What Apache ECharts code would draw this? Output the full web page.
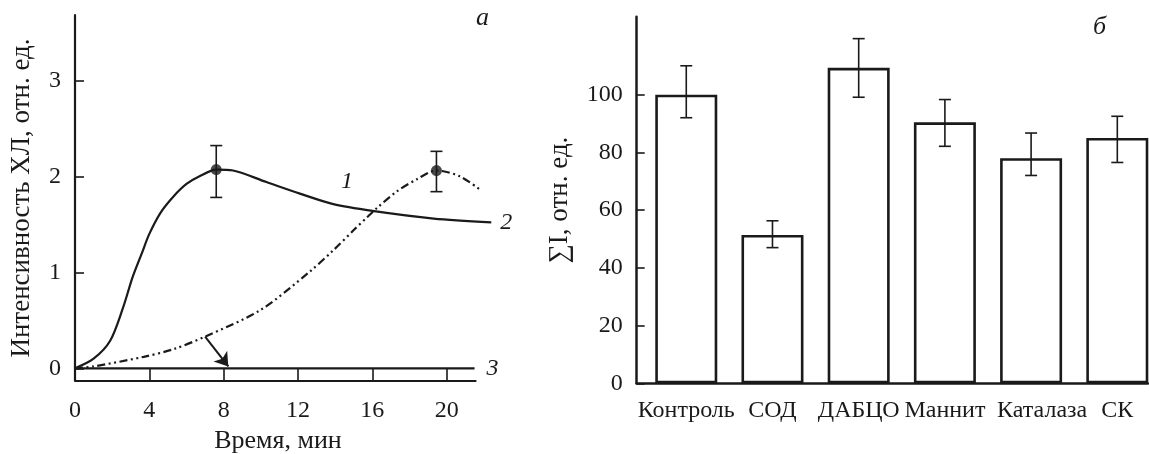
<!DOCTYPE html>
<html>
<head>
<meta charset="utf-8">
<script src="https://cdn.jsdelivr.net/npm/echarts@6/dist/echarts.min.js"></script>
<style>
html,body{margin:0;padding:0;background:#fff;}
#chart{width:1149px;height:454px;}
</style>
</head>
<body>
<div id="chart"></div>
<script>
// ---- Panel а: chemiluminescence kinetics ----
const timeTicks = [0, 4, 8, 12, 16, 20];
const intensityTicks = [0, 1, 2, 3];
const timeAxisEnd = 21.6;        // end of the drawn time axis line
const curve1Time = [0, 1.0, 1.9, 2.6, 3.1, 3.6, 4.0, 4.6, 5.3, 6.0, 6.7, 7.6, 8.5, 10.3, 12.1, 13.9, 16.0, 19.3, 22.4];
const curve1Val  = [0, 0.10, 0.29, 0.64, 0.95, 1.20, 1.40, 1.62, 1.79, 1.92, 2.0, 2.07, 2.06, 1.94, 1.82, 1.71, 1.64, 1.56, 1.52];
const curve2Time = [0, 1.0, 3.7, 5.3, 7.0, 10.0, 12.65, 13.9, 15.0, 15.7, 16.25, 17.3, 18.4, 19.45, 20.7, 21.8];
const curve2Val  = [0, 0.02, 0.12, 0.20, 0.33, 0.61, 1.01, 1.23, 1.44, 1.57, 1.67, 1.84, 1.97, 2.06, 2.0, 1.86];
const curve3Time = [0, 21.5];
const curve3Val  = [0, 0];
const pointTime = [7.6, 19.45];
const pointVal  = [2.07, 2.06];
const pointLow  = [1.78, 1.84];
const pointHigh = [2.32, 2.26];
const arrowFrom = [7.0, 0.33];
const arrowTo   = [8.25, 0.02];

// ---- Panel б: integral intensity ----
const categories = ['Контроль', 'СОД', 'ДАБЦО', 'Маннит', 'Каталаза', 'СК'];
const barValues = [100, 51.4, 109.3, 90.4, 78.0, 85.0];
const barLow    = [92, 47.0, 99.1, 82.1, 72.0, 76.5];
const barHigh   = [110, 56.3, 119.4, 98.3, 86.7, 92.5];
const sumTicks  = [0, 20, 40, 60, 80, 100];

const FONT = '"Liberation Serif", "DejaVu Serif", serif';
const FS = 24;
const NAME_FS = 26;
const BLACK = '#1a1a1a';
const Y_MIN_A = -0.132;

const zip = (a, b) => a.map((v, i) => [v, b[i]]);

function errRender(capHalf) {
  return function (params, api) {
    const x = api.value(0);
    const lo = api.coord([x, api.value(1)]);
    const hi = api.coord([x, api.value(2)]);
    const st = { stroke: BLACK, lineWidth: 1.6 };
    return {
      type: 'group',
      children: [
        { type: 'line', shape: { x1: hi[0], y1: hi[1], x2: lo[0], y2: lo[1] }, style: st },
        { type: 'line', shape: { x1: hi[0] - capHalf, y1: hi[1], x2: hi[0] + capHalf, y2: hi[1] }, style: st },
        { type: 'line', shape: { x1: lo[0] - capHalf, y1: lo[1], x2: lo[0] + capHalf, y2: lo[1] }, style: st }
      ]
    };
  };
}

const chart = echarts.init(document.getElementById('chart'), null, { renderer: 'canvas' });

const axisLabelStyle = { color: BLACK, fontFamily: FONT, fontSize: FS };

const option = {
  animation: false,
  backgroundColor: '#fff',
  textStyle: { fontFamily: FONT },
  grid: [
    // panel а: grid extends past the axis line so curves 1 and 2 may run beyond it
    { left: 75, right: 1149 - 500, top: 15, bottom: 454 - 381, containLabel: false, outerBoundsMode: 'none' },
    { left: 636.7, right: 1, top: 16.7, bottom: 454 - 383.3, containLabel: false, outerBoundsMode: 'none' }
  ],
  xAxis: [
    {
      gridIndex: 0, type: 'value', min: 0, max: 22.87,
      axisLine: { show: false, onZero: false },
      axisTick: { inside: true, length: 13, customValues: timeTicks, lineStyle: { color: BLACK, width: 1.6 } },
      axisLabel: Object.assign({ customValues: timeTicks, margin: 18 }, axisLabelStyle),
      splitLine: { show: false },
      name: 'Время, мин', nameLocation: 'middle', nameGap: 47,
      nameTextStyle: { color: BLACK, fontFamily: FONT, fontSize: NAME_FS, padding: [0, 19, 0, 0] }
    },
    {
      gridIndex: 1, type: 'value', min: -0.575, max: 5.356,
      axisLine: { onZero: false, lineStyle: { color: BLACK, width: 2.5 } },
      axisTick: { show: false },
      axisLabel: Object.assign({
        customValues: categories.map((c, i) => i), margin: 15,
        formatter: v => {
          const i = Math.round(v);
          return i === 4 ? '{shift|' + categories[i] + '}' : categories[i];
        },
        rich: { shift: { fontFamily: FONT, fontSize: FS, color: BLACK, padding: [0, 0, 0, 22] } }
      }, axisLabelStyle),
      splitLine: { show: false }
    }
  ],
  yAxis: [
    {
      gridIndex: 0, type: 'value', min: Y_MIN_A, max: 3.68,
      axisLine: { show: true, onZero: false, lineStyle: { color: BLACK, width: 2.2 } },
      axisTick: { show: true, inside: true, length: 9, customValues: intensityTicks, lineStyle: { color: BLACK, width: 1.6 } },
      axisLabel: Object.assign({ customValues: intensityTicks, margin: 14 }, axisLabelStyle),
      splitLine: { show: false },
      name: 'Интенсивность ХЛ, отн. ед.', nameLocation: 'middle', nameGap: 40, nameRotate: 90,
      nameTextStyle: { color: BLACK, fontFamily: FONT, fontSize: NAME_FS + 1 }
    },
    {
      gridIndex: 1, type: 'value', min: 0, max: 127,
      axisLine: { show: true, onZero: false, lineStyle: { color: BLACK, width: 2.5 } },
      axisTick: { show: true, inside: true, length: 8, customValues: sumTicks, lineStyle: { color: BLACK, width: 1.6 } },
      axisLabel: Object.assign({ customValues: sumTicks, margin: 14 }, axisLabelStyle),
      splitLine: { show: false },
      name: '∑I, отн. ед.', nameLocation: 'middle', nameGap: 63, nameRotate: 90,
      nameTextStyle: { color: BLACK, fontFamily: FONT, fontSize: NAME_FS + 1 }
    }
  ],
  series: [
    {
      // time axis line of panel а (ends at timeAxisEnd)
      type: 'line', xAxisIndex: 0, yAxisIndex: 0, silent: true,
      data: [[0, Y_MIN_A], [timeAxisEnd, Y_MIN_A]],
      showSymbol: false, lineStyle: { color: BLACK, width: 2.2 }, z: 3
    },
    {
      type: 'line', xAxisIndex: 0, yAxisIndex: 0, data: zip(curve1Time, curve1Val),
      smooth: 0.3, showSymbol: false,
      lineStyle: { color: BLACK, width: 2.2 },
      endLabel: { show: true, formatter: '2', color: BLACK, fontFamily: FONT, fontSize: FS, fontStyle: 'italic', distance: 9 }
    },
    {
      type: 'line', xAxisIndex: 0, yAxisIndex: 0, data: zip(curve2Time, curve2Val),
      smooth: 0.3, showSymbol: false,
      lineStyle: { color: BLACK, width: 2.2, type: [8, 3.5, 2, 3.5, 2, 3.5] },
      markLine: {
        silent: true, symbol: ['none', 'arrow'], symbolSize: 13, label: { show: false },
        lineStyle: { color: BLACK, width: 2, type: 'solid' },
        data: [[{ coord: arrowFrom }, { coord: arrowTo }]]
      }
    },
    {
      type: 'line', xAxisIndex: 0, yAxisIndex: 0, data: zip(curve3Time, curve3Val),
      showSymbol: false,
      lineStyle: { color: BLACK, width: 2.2 },
      endLabel: { show: true, formatter: '3', color: BLACK, fontFamily: FONT, fontSize: FS, fontStyle: 'italic', distance: 12 }
    },
    {
      type: 'custom', xAxisIndex: 0, yAxisIndex: 0,
      data: pointTime.map((t, i) => [t, pointLow[i], pointHigh[i]]),
      renderItem: errRender(6), z: 5
    },
    {
      type: 'scatter', xAxisIndex: 0, yAxisIndex: 0, data: zip(pointTime, pointVal),
      symbol: 'circle', symbolSize: 11, itemStyle: { color: BLACK }, z: 6
    },
    {
      type: 'bar', xAxisIndex: 1, yAxisIndex: 1,
      data: barValues.map((v, i) => [i, v]),
      barWidth: 62,
      itemStyle: { color: '#fff', borderColor: BLACK, borderWidth: 2.6 }
    },
    {
      type: 'custom', xAxisIndex: 1, yAxisIndex: 1,
      data: barValues.map((v, i) => [i, barLow[i], barHigh[i]]),
      renderItem: errRender(6), z: 5
    }
  ],
  graphic: [
    { type: 'text', left: 476, top: 5, style: { text: 'а', font: 'italic 26px ' + FONT, fill: BLACK } },
    { type: 'text', left: 1093, top: 14, style: { text: 'б', font: 'italic 26px ' + FONT, fill: BLACK } },
    { type: 'text', left: 341, top: 170, style: { text: '1', font: 'italic 24px ' + FONT, fill: BLACK } }
  ]
};

chart.setOption(option);
</script>
</body>
</html>
